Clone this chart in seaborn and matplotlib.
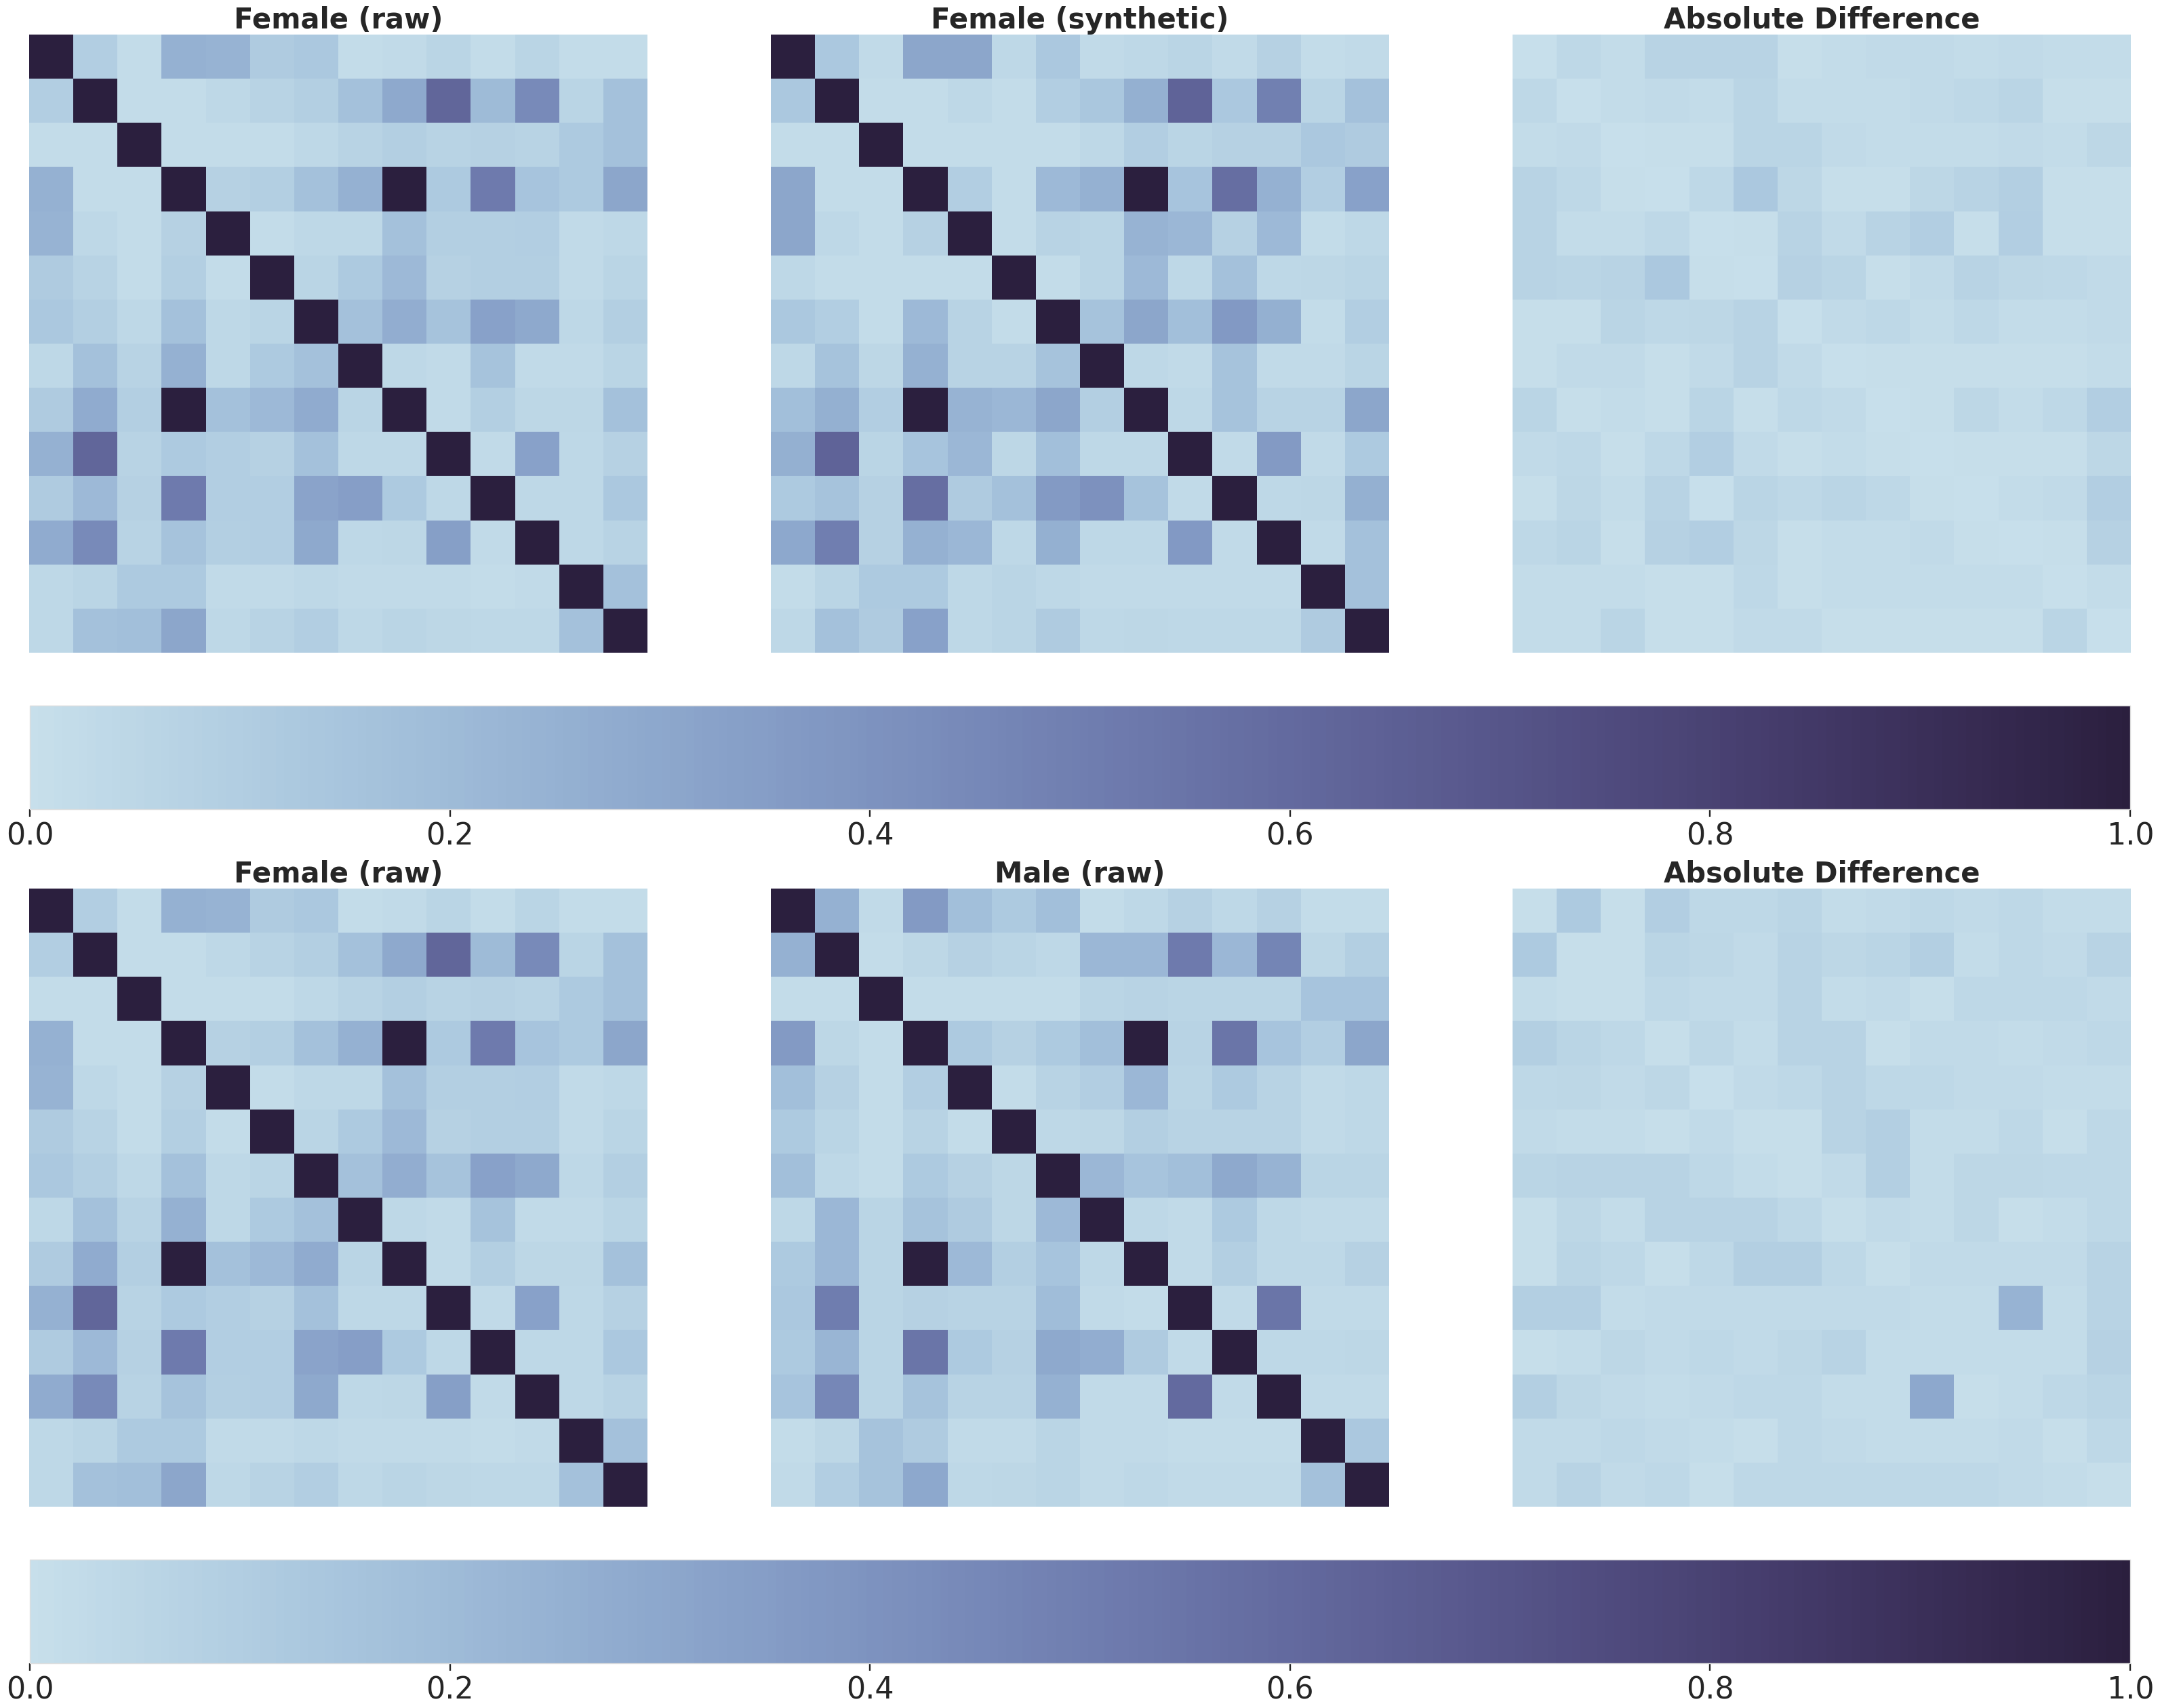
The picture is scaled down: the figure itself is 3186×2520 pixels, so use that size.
import numpy as np
import seaborn as sns
import matplotlib.pyplot as plt

sns.set_theme(style="white")
plt.rcParams['font.family'] = ['DejaVu Sans']

# 14x14 association matrices
female_raw = [
    [1.00, 0.10, 0.02, 0.25, 0.24, 0.11, 0.13, 0.02, 0.03, 0.06, 0.02, 0.06, 0.02, 0.02],
    [0.10, 1.00, 0.02, 0.02, 0.04, 0.07, 0.09, 0.17, 0.29, 0.62, 0.20, 0.44, 0.06, 0.17],
    [0.02, 0.02, 1.00, 0.02, 0.02, 0.02, 0.04, 0.07, 0.09, 0.07, 0.08, 0.07, 0.12, 0.17],
    [0.25, 0.02, 0.02, 1.00, 0.08, 0.09, 0.17, 0.25, 1.00, 0.12, 0.52, 0.15, 0.12, 0.31],
    [0.24, 0.04, 0.02, 0.08, 1.00, 0.02, 0.04, 0.04, 0.17, 0.09, 0.09, 0.10, 0.03, 0.04],
    [0.11, 0.07, 0.02, 0.09, 0.02, 1.00, 0.06, 0.12, 0.21, 0.08, 0.09, 0.09, 0.03, 0.06],
    [0.13, 0.09, 0.04, 0.17, 0.04, 0.06, 1.00, 0.17, 0.27, 0.16, 0.33, 0.29, 0.04, 0.09],
    [0.04, 0.17, 0.07, 0.25, 0.04, 0.12, 0.17, 1.00, 0.04, 0.03, 0.16, 0.03, 0.03, 0.06],
    [0.11, 0.28, 0.09, 1.00, 0.17, 0.21, 0.28, 0.06, 1.00, 0.03, 0.09, 0.05, 0.05, 0.17],
    [0.25, 0.62, 0.07, 0.12, 0.10, 0.08, 0.17, 0.04, 0.04, 1.00, 0.03, 0.33, 0.04, 0.08],
    [0.11, 0.21, 0.08, 0.52, 0.10, 0.10, 0.32, 0.35, 0.12, 0.04, 1.00, 0.04, 0.04, 0.13],
    [0.28, 0.44, 0.07, 0.16, 0.09, 0.10, 0.29, 0.04, 0.05, 0.34, 0.03, 1.00, 0.04, 0.07],
    [0.04, 0.06, 0.12, 0.12, 0.03, 0.03, 0.04, 0.03, 0.03, 0.03, 0.02, 0.03, 1.00, 0.17],
    [0.04, 0.17, 0.18, 0.31, 0.04, 0.07, 0.10, 0.04, 0.06, 0.05, 0.04, 0.04, 0.17, 1.00],
]

female_syn = [
    [1.00, 0.13, 0.03, 0.31, 0.31, 0.04, 0.13, 0.03, 0.04, 0.06, 0.03, 0.08, 0.02, 0.03],
    [0.13, 1.00, 0.02, 0.02, 0.04, 0.02, 0.10, 0.14, 0.26, 0.63, 0.13, 0.49, 0.06, 0.17],
    [0.02, 0.02, 1.00, 0.02, 0.02, 0.02, 0.02, 0.04, 0.10, 0.06, 0.08, 0.08, 0.13, 0.11],
    [0.31, 0.02, 0.02, 1.00, 0.10, 0.02, 0.21, 0.25, 1.00, 0.15, 0.58, 0.25, 0.10, 0.33],
    [0.31, 0.04, 0.02, 0.08, 1.00, 0.02, 0.07, 0.06, 0.24, 0.22, 0.08, 0.21, 0.02, 0.04],
    [0.04, 0.02, 0.02, 0.02, 0.02, 1.00, 0.02, 0.06, 0.21, 0.04, 0.17, 0.04, 0.05, 0.06],
    [0.13, 0.10, 0.02, 0.21, 0.07, 0.02, 1.00, 0.16, 0.31, 0.18, 0.37, 0.26, 0.02, 0.10],
    [0.04, 0.16, 0.05, 0.25, 0.07, 0.07, 0.16, 1.00, 0.04, 0.03, 0.16, 0.03, 0.03, 0.06],
    [0.18, 0.26, 0.10, 1.00, 0.24, 0.22, 0.31, 0.09, 1.00, 0.04, 0.16, 0.07, 0.07, 0.31],
    [0.26, 0.63, 0.06, 0.15, 0.22, 0.05, 0.18, 0.04, 0.04, 1.00, 0.03, 0.36, 0.03, 0.12],
    [0.12, 0.16, 0.08, 0.58, 0.11, 0.17, 0.36, 0.41, 0.16, 0.03, 1.00, 0.04, 0.05, 0.26],
    [0.30, 0.50, 0.08, 0.25, 0.22, 0.04, 0.26, 0.04, 0.04, 0.37, 0.03, 1.00, 0.03, 0.17],
    [0.02, 0.06, 0.12, 0.12, 0.04, 0.06, 0.04, 0.03, 0.03, 0.03, 0.03, 0.03, 1.00, 0.17],
    [0.04, 0.17, 0.11, 0.33, 0.04, 0.06, 0.11, 0.04, 0.05, 0.04, 0.04, 0.04, 0.11, 1.00],
]

female_diff = [
    [0.00, 0.04, 0.02, 0.07, 0.07, 0.07, 0.01, 0.02, 0.03, 0.03, 0.02, 0.03, 0.02, 0.02],
    [0.04, 0.00, 0.02, 0.03, 0.02, 0.06, 0.02, 0.02, 0.02, 0.03, 0.04, 0.06, 0.01, 0.01],
    [0.02, 0.03, 0.00, 0.01, 0.01, 0.06, 0.06, 0.03, 0.02, 0.02, 0.02, 0.03, 0.02, 0.05],
    [0.07, 0.04, 0.01, 0.00, 0.04, 0.13, 0.05, 0.01, 0.01, 0.05, 0.07, 0.09, 0.01, 0.01],
    [0.07, 0.02, 0.02, 0.04, 0.00, 0.01, 0.07, 0.03, 0.07, 0.10, 0.01, 0.10, 0.01, 0.01],
    [0.07, 0.06, 0.07, 0.13, 0.01, 0.00, 0.08, 0.06, 0.01, 0.03, 0.07, 0.05, 0.04, 0.03],
    [0.01, 0.01, 0.06, 0.04, 0.05, 0.07, 0.00, 0.03, 0.04, 0.02, 0.04, 0.02, 0.02, 0.03],
    [0.01, 0.03, 0.03, 0.01, 0.03, 0.07, 0.03, 0.00, 0.01, 0.01, 0.01, 0.01, 0.01, 0.02],
    [0.06, 0.01, 0.02, 0.01, 0.06, 0.01, 0.04, 0.03, 0.00, 0.01, 0.05, 0.02, 0.04, 0.10],
    [0.03, 0.04, 0.01, 0.04, 0.10, 0.03, 0.01, 0.02, 0.01, 0.00, 0.01, 0.01, 0.01, 0.05],
    [0.01, 0.05, 0.02, 0.07, 0.00, 0.06, 0.04, 0.06, 0.04, 0.01, 0.00, 0.02, 0.03, 0.10],
    [0.04, 0.06, 0.01, 0.08, 0.10, 0.05, 0.01, 0.02, 0.02, 0.03, 0.01, 0.00, 0.01, 0.08],
    [0.02, 0.02, 0.02, 0.01, 0.01, 0.04, 0.01, 0.02, 0.02, 0.02, 0.02, 0.02, 0.00, 0.02],
    [0.02, 0.02, 0.06, 0.01, 0.01, 0.03, 0.03, 0.01, 0.01, 0.01, 0.01, 0.01, 0.06, 0.00],
]

male_raw = [
    [1.00, 0.25, 0.03, 0.36, 0.18, 0.12, 0.18, 0.02, 0.04, 0.08, 0.04, 0.08, 0.02, 0.02],
    [0.25, 1.00, 0.02, 0.05, 0.08, 0.06, 0.04, 0.22, 0.22, 0.52, 0.22, 0.47, 0.05, 0.09],
    [0.02, 0.02, 1.00, 0.02, 0.02, 0.02, 0.02, 0.06, 0.07, 0.06, 0.06, 0.06, 0.15, 0.15],
    [0.36, 0.05, 0.02, 1.00, 0.12, 0.08, 0.12, 0.18, 1.00, 0.07, 0.55, 0.15, 0.10, 0.31],
    [0.18, 0.08, 0.02, 0.10, 1.00, 0.02, 0.07, 0.10, 0.22, 0.06, 0.12, 0.07, 0.03, 0.04],
    [0.12, 0.06, 0.02, 0.07, 0.02, 1.00, 0.04, 0.05, 0.09, 0.07, 0.07, 0.07, 0.03, 0.04],
    [0.18, 0.04, 0.02, 0.12, 0.08, 0.05, 1.00, 0.22, 0.15, 0.18, 0.29, 0.24, 0.06, 0.06],
    [0.04, 0.22, 0.06, 0.16, 0.11, 0.05, 0.21, 1.00, 0.04, 0.03, 0.12, 0.04, 0.03, 0.03],
    [0.12, 0.22, 0.06, 1.00, 0.21, 0.09, 0.15, 0.04, 1.00, 0.03, 0.09, 0.04, 0.04, 0.08],
    [0.13, 0.51, 0.06, 0.08, 0.07, 0.07, 0.19, 0.03, 0.02, 1.00, 0.03, 0.55, 0.03, 0.03],
    [0.12, 0.23, 0.06, 0.55, 0.12, 0.08, 0.29, 0.27, 0.11, 0.03, 1.00, 0.04, 0.04, 0.05],
    [0.15, 0.46, 0.06, 0.16, 0.07, 0.07, 0.25, 0.03, 0.03, 0.60, 0.03, 1.00, 0.03, 0.03],
    [0.02, 0.05, 0.16, 0.11, 0.03, 0.03, 0.06, 0.03, 0.03, 0.02, 0.02, 0.02, 1.00, 0.13],
    [0.03, 0.10, 0.16, 0.30, 0.04, 0.05, 0.06, 0.03, 0.04, 0.03, 0.03, 0.03, 0.17, 1.00],
]

male_diff = [
    [0.01, 0.12, 0.01, 0.10, 0.04, 0.04, 0.06, 0.02, 0.03, 0.04, 0.03, 0.04, 0.02, 0.02],
    [0.12, 0.01, 0.01, 0.06, 0.05, 0.03, 0.07, 0.05, 0.06, 0.09, 0.02, 0.04, 0.03, 0.07],
    [0.02, 0.01, 0.01, 0.04, 0.03, 0.03, 0.07, 0.02, 0.03, 0.01, 0.04, 0.04, 0.04, 0.03],
    [0.09, 0.06, 0.04, 0.01, 0.05, 0.02, 0.07, 0.07, 0.01, 0.03, 0.03, 0.02, 0.03, 0.04],
    [0.04, 0.05, 0.03, 0.05, 0.00, 0.03, 0.04, 0.07, 0.04, 0.04, 0.03, 0.03, 0.02, 0.02],
    [0.03, 0.02, 0.02, 0.01, 0.03, 0.01, 0.01, 0.07, 0.09, 0.02, 0.02, 0.04, 0.01, 0.04],
    [0.06, 0.07, 0.07, 0.07, 0.04, 0.02, 0.01, 0.03, 0.09, 0.02, 0.05, 0.05, 0.04, 0.04],
    [0.01, 0.05, 0.02, 0.07, 0.07, 0.07, 0.04, 0.01, 0.03, 0.02, 0.05, 0.01, 0.02, 0.04],
    [0.01, 0.06, 0.04, 0.01, 0.04, 0.09, 0.09, 0.04, 0.01, 0.03, 0.03, 0.03, 0.03, 0.07],
    [0.09, 0.09, 0.02, 0.03, 0.03, 0.03, 0.03, 0.03, 0.03, 0.02, 0.02, 0.24, 0.02, 0.07],
    [0.01, 0.02, 0.05, 0.03, 0.04, 0.03, 0.05, 0.07, 0.02, 0.02, 0.02, 0.02, 0.02, 0.08],
    [0.09, 0.05, 0.03, 0.02, 0.03, 0.04, 0.04, 0.02, 0.02, 0.30, 0.01, 0.02, 0.04, 0.06],
    [0.03, 0.03, 0.04, 0.03, 0.02, 0.01, 0.04, 0.03, 0.02, 0.02, 0.02, 0.03, 0.01, 0.04],
    [0.03, 0.07, 0.03, 0.04, 0.01, 0.04, 0.04, 0.04, 0.04, 0.04, 0.04, 0.03, 0.02, 0.01],
]

rows = [
    [("Female (raw)", female_raw), ("Female (synthetic)", female_syn), ("Absolute Difference", female_diff)],
    [("Female (raw)", female_raw), ("Male (raw)", male_raw), ("Absolute Difference", male_diff)],
]

cmap = sns.color_palette("ch:s=.25,rot=-.25", as_cmap=True)

W, H = 3186, 2520
fig = plt.figure(figsize=(W / 100, H / 100), dpi=100)

def px_rect(x, y, w, h):
    # pixel box (from top-left) -> figure fraction
    return [x / W, 1 - (y + h) / H, w / W, h / H]

lefts = [43, 1137, 2231]
tops = [51, 1311]
size = 912

for r, panels in enumerate(rows):
    for c, (title, mat) in enumerate(panels):
        ax = fig.add_axes(px_rect(lefts[c], tops[r], size, size))
        sns.heatmap(np.array(mat), ax=ax, cmap=cmap, vmin=0, vmax=1, cbar=False,
                    xticklabels=False, yticklabels=False)
        ax.set_title(title, fontsize=30, fontweight='bold', pad=4)
    cax = fig.add_axes(px_rect(44, tops[r] + 990, 3098, 153))
    cb = fig.colorbar(ax.collections[0], cax=cax, orientation='horizontal')
    cb.outline.set_edgecolor('0.87')
    cb.outline.set_linewidth(1.0)
    cb.set_ticks([0.0, 0.2, 0.4, 0.6, 0.8, 1.0])
    cax.tick_params(axis='x', labelsize=32, length=8, width=1.7, bottom=True, pad=5,
                    colors='#262626')

fig.savefig('out.png', dpi=100)
